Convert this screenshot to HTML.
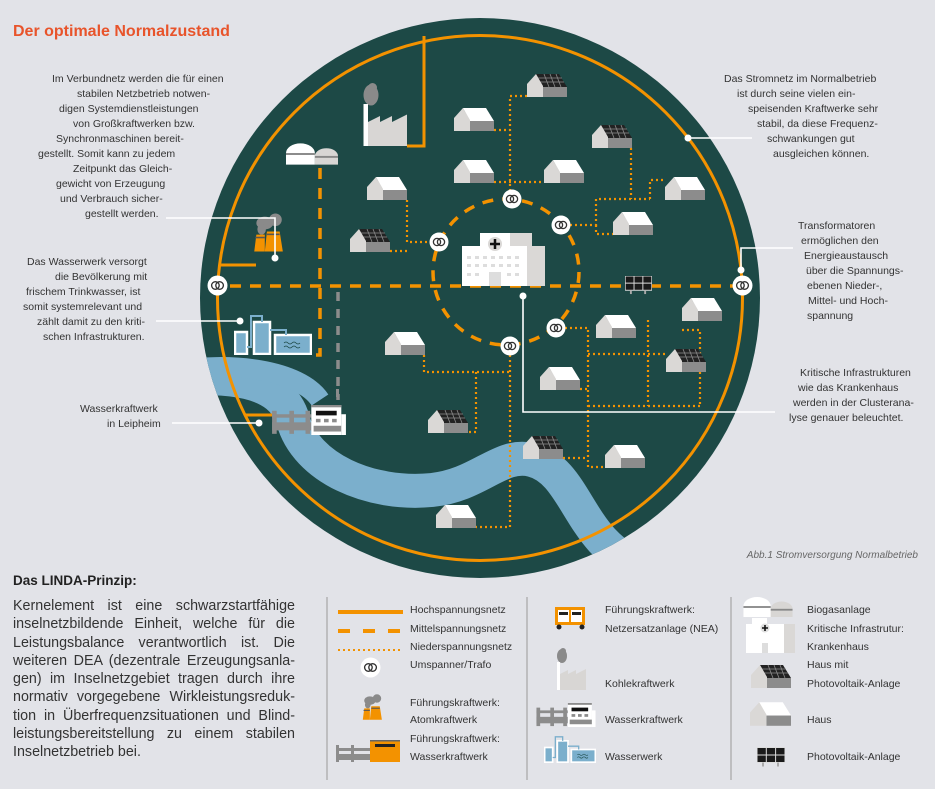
<!DOCTYPE html>
<html><head><meta charset="utf-8"><style>
html,body{margin:0;padding:0;background:#e2e3e8;}
#w{position:relative;width:935px;height:789px;overflow:hidden;font-family:"Liberation Sans",sans-serif;}
svg{position:absolute;left:0;top:0;}
.p{position:absolute;left:13px;width:282px;font-size:14.3px;color:#333;line-height:18.3px;}
.p div{text-align:justify;text-align-last:justify;white-space:nowrap;}
.p div.l{text-align-last:left;}
</style></head><body><div id="w">
<svg width="935" height="789" viewBox="0 0 935 789" font-family="Liberation Sans, sans-serif">
<defs>
<clipPath id="cc"><circle cx="480" cy="298" r="280"/></clipPath>
<symbol id="house" viewBox="0 0 40 23">
<polygon points="9,0 32,0 40,13 16,13" fill="#fff"/>
<rect x="16" y="13" width="24" height="10" fill="#8c8c8c"/>
<polygon points="0,23 0,10 9,0 16,12 16,23" fill="#dad8d6"/>
</symbol>
<symbol id="shouse" viewBox="0 0 40 23">
<polygon points="9,0 32,0 40,13 16,13" fill="#222"/>
<g stroke="#8c8c8c" stroke-width="0.8"><line x1="11" y1="4" x2="35" y2="4"/><line x1="13" y1="8" x2="37" y2="8"/><line x1="17" y1="0" x2="22" y2="13"/><line x1="23" y1="0" x2="28" y2="13"/><line x1="29" y1="0" x2="34" y2="13"/></g>
<rect x="16" y="13" width="24" height="10" fill="#8c8c8c"/>
<polygon points="0,23 0,10 9,0 16,12 16,23" fill="#dad8d6"/>
</symbol>
<symbol id="trafo" viewBox="0 0 20 20">
<circle cx="10" cy="10" r="9.5" fill="#fff"/>
<circle cx="8" cy="10" r="3.6" fill="none" stroke="#333" stroke-width="1.3"/>
<circle cx="12" cy="10" r="3.6" fill="none" stroke="#333" stroke-width="1.3"/>
</symbol>
<symbol id="pv" viewBox="0 0 28 20">
<rect x="0" y="0" width="28" height="15" fill="#1a1a1a" stroke="#ddd" stroke-width="1"/>
<line x1="9.3" y1="0" x2="9.3" y2="15" stroke="#ddd"/><line x1="18.6" y1="0" x2="18.6" y2="15" stroke="#ddd"/><line x1="0" y1="7.5" x2="28" y2="7.5" stroke="#ddd"/>
<rect x="5" y="15" width="2" height="4" fill="#aaa"/><rect x="20" y="15" width="2" height="4" fill="#aaa"/>
</symbol>
<symbol id="bio" viewBox="0 0 54 22">
<path d="M0,22 V10 A15,10 0 0 1 30,10 V22Z" fill="#fff"/>
<path d="M30,22 V13 A12,8 0 0 1 54,13 V22Z" fill="#d8d6d4"/>
<rect x="0" y="10" width="30" height="2" fill="#888"/><rect x="30" y="13" width="24" height="2" fill="#888"/>
</symbol>
<symbol id="hydro" viewBox="0 0 64 26">
<rect x="0" y="8" width="34" height="3" fill="#8c8c8c"/><rect x="0" y="15" width="34" height="7" fill="#8c8c8c"/>
<rect x="0" y="5" width="4" height="20" fill="#8c8c8c"/><rect x="15" y="5" width="4" height="20" fill="#8c8c8c"/><rect x="29" y="5" width="4" height="20" fill="#8c8c8c"/>
<rect x="34" y="0" width="26" height="26" fill="#fff"/><rect x="34" y="0" width="26" height="2" fill="#8c8c8c"/>
<rect x="38" y="5" width="18" height="4" fill="#111"/>
<rect x="38" y="12" width="4" height="3" fill="#8c8c8c"/><rect x="45" y="12" width="4" height="3" fill="#8c8c8c"/><rect x="52" y="12" width="4" height="3" fill="#8c8c8c"/>
<rect x="36" y="18" width="26" height="5" fill="#8c8c8c"/><rect x="60" y="8" width="4" height="18" fill="#fff"/>
</symbol>
<symbol id="ww" viewBox="0 0 78 40">
<rect x="1" y="17" width="12" height="22" fill="#7bafcc" stroke="#fff" stroke-width="2.5"/>
<rect x="20" y="7" width="16" height="32" fill="#7bafcc" stroke="#fff" stroke-width="2.5"/>
<rect x="41" y="20" width="36" height="19" fill="#7bafcc" stroke="#fff" stroke-width="2.5"/>
<path d="M13,32 H17 V1 H28 V7 M36,15 H52 V20" fill="none" stroke="#7bafcc" stroke-width="2"/>
<path d="M50,28 q2,-2 4,0 q2,2 4,0 q2,-2 4,0 q2,2 4,0 M50,32 q2,-2 4,0 q2,2 4,0 q2,-2 4,0 q2,2 4,0" fill="none" stroke="#1d4946" stroke-width="0.8"/>
</symbol>
<symbol id="coal" viewBox="0 0 30 42">
<ellipse cx="6" cy="8" rx="5" ry="7" fill="#8a8a8a"/><ellipse cx="7" cy="3" rx="3" ry="3" fill="#8a8a8a"/>
<rect x="1" y="14" width="3" height="28" fill="#fff"/>
<polygon points="4,42 4,26 12,22 12,26 20,22 20,26 30,21 30,42" fill="#d8d6d4"/>
</symbol>
<symbol id="nuke" viewBox="0 0 34 36">
<ellipse cx="14" cy="9" rx="8" ry="6" fill="#8a8a8a"/><ellipse cx="24" cy="6" rx="6" ry="6" fill="#8a8a8a"/><ellipse cx="11" cy="15" rx="4" ry="5" fill="#8a8a8a"/>
<polygon points="4,36 6,20 14,20 14,36" fill="#f39200"/><polygon points="14,36 16,17 28,17 31,36" fill="#f39200"/>
<rect x="5" y="22" width="9" height="1.5" fill="#555"/><rect x="16" y="19" width="12" height="1.5" fill="#555"/>
</symbol>
</defs>

<text x="13" y="36" font-size="16" font-weight="bold" fill="#e8542b">Der optimale Normalzustand</text>

<circle cx="480" cy="298" r="280" fill="#1d4946"/>
<g clip-path="url(#cc)">
<path d="M150,382 C230,372 282,380 293,420 C306,468 370,496 432,490 C480,485 500,452 532,460 C565,468 575,510 602,540 C625,565 660,580 700,585" fill="none" stroke="#7bafcc" stroke-width="34"/>
<path d="M170,372 C230,360 300,370 320,400" fill="none" stroke="#7bafcc" stroke-width="20"/>
</g>
<circle cx="480" cy="298" r="262.5" fill="none" stroke="#f39200" stroke-width="3"/>

<path d="M424,36 V146 H407" fill="none" stroke="#f39200" stroke-width="3"/>
<path d="M220,265 H256" fill="none" stroke="#f39200" stroke-width="3"/>
<path d="M245,415 H272" fill="none" stroke="#f39200" stroke-width="3"/>
<g fill="none" stroke="#f39200" stroke-width="3.5" stroke-dasharray="11,9">
<path d="M230,286 H735"/>
<path d="M320,168 V355 H310"/>
<circle cx="506" cy="272" r="73"/>
</g>
<path d="M338,292 V400" fill="none" stroke="#8c8c8c" stroke-width="3.5" stroke-dasharray="9,8"/>

<g fill="none" stroke="#f39200" stroke-width="2.2" stroke-dasharray="2,3">
<path d="M527,96 H510 V192"/><path d="M494,130 H510"/><path d="M494,182 H544"/>
<path d="M407,200 V242 H430"/><path d="M390,251 H407"/>
<path d="M570,225 H596 V199 H650"/><path d="M631,148 V199"/><path d="M596,225 V234 H613"/><path d="M650,199 V180 H665"/>
<path d="M565,328 H588 V467 H605"/><path d="M588,354 H665"/><path d="M588,406 H700"/><path d="M563,458 H588"/><path d="M648,320 V406"/><path d="M580,389 H588"/>
<path d="M510,355 V527 H476"/><path d="M424,355 V372 H510"/><path d="M476,372 V432 H468"/><path d="M682,330 H700 V406"/>
</g>

<use href="#shouse" x="527" y="74" width="40" height="23"/>
<use href="#house" x="454" y="108" width="40" height="23"/>
<use href="#shouse" x="592" y="125" width="40" height="23"/>
<use href="#house" x="454" y="160" width="40" height="23"/>
<use href="#house" x="544" y="160" width="40" height="23"/>
<use href="#house" x="367" y="177" width="40" height="23"/>
<use href="#house" x="665" y="177" width="40" height="23"/>
<use href="#shouse" x="350" y="229" width="40" height="23"/>
<use href="#house" x="613" y="212" width="40" height="23"/>
<use href="#house" x="385" y="332" width="40" height="23"/>
<use href="#house" x="596" y="315" width="40" height="23"/>
<use href="#house" x="682" y="298" width="40" height="23"/>
<use href="#shouse" x="666" y="349" width="40" height="23"/>
<use href="#house" x="540" y="367" width="40" height="23"/>
<use href="#shouse" x="428" y="410" width="40" height="23"/>
<use href="#shouse" x="523" y="436" width="40" height="23"/>
<use href="#house" x="605" y="445" width="40" height="23"/>
<use href="#house" x="436" y="505" width="40" height="23"/>

<use href="#coal" x="362" y="82" width="45" height="65"/>
<use href="#bio" x="286" y="143" width="52" height="22"/>
<use href="#nuke" x="250" y="197" width="36" height="71"/>
<use href="#ww" x="234" y="315" width="78" height="40"/>
<use href="#hydro" x="270" y="405" width="78" height="30"/>
<rect x="336" y="389" width="3" height="8" fill="#8c8c8c"/>
<use href="#pv" x="625" y="276" width="27" height="19"/>

<rect x="480" y="233" width="32" height="14" fill="#fff"/>
<rect x="510" y="233" width="22" height="14" fill="#dad8d6"/>
<rect x="462" y="246" width="65" height="40" fill="#fff"/>
<rect x="527" y="246" width="18" height="40" fill="#dad8d6"/>
<circle cx="495" cy="244" r="7" fill="#dad8d6"/>
<path d="M495,239 V249 M490,244 H500" stroke="#111" stroke-width="2.5"/>
<g fill="#ddd"><rect x="467" y="256" width="4" height="3"/><rect x="475" y="256" width="4" height="3"/><rect x="483" y="256" width="4" height="3"/><rect x="491" y="256" width="4" height="3"/><rect x="499" y="256" width="4" height="3"/><rect x="507" y="256" width="4" height="3"/><rect x="515" y="256" width="4" height="3"/>
<rect x="467" y="264" width="4" height="3"/><rect x="475" y="264" width="4" height="3"/><rect x="483" y="264" width="4" height="3"/><rect x="491" y="264" width="4" height="3"/><rect x="499" y="264" width="4" height="3"/><rect x="507" y="264" width="4" height="3"/><rect x="515" y="264" width="4" height="3"/>
<rect x="467" y="273" width="4" height="3"/><rect x="475" y="273" width="4" height="3"/><rect x="507" y="273" width="4" height="3"/><rect x="515" y="273" width="4" height="3"/><rect x="489" y="272" width="12" height="14"/></g>

<use href="#trafo" x="502" y="189" width="20" height="20"/>
<use href="#trafo" x="551" y="215" width="20" height="20"/>
<use href="#trafo" x="429" y="232" width="20" height="20"/>
<use href="#trafo" x="546" y="318" width="20" height="20"/>
<use href="#trafo" x="500" y="336" width="20" height="20"/>
<use href="#trafo" x="207" y="275" width="21" height="21"/>
<use href="#trafo" x="732" y="275" width="21" height="21"/>

<g fill="none" stroke="#fff" stroke-width="1.6">
<path d="M166,218 H275 V258"/><path d="M156,321 H240"/><path d="M172,423 H259"/>
<path d="M688,138 H752"/><path d="M741,270 V248 H793"/><path d="M523,296 V412 H775"/>
</g>
<g fill="#fff"><circle cx="275" cy="258" r="3.5"/><circle cx="240" cy="321" r="3.5"/><circle cx="259" cy="423" r="3.5"/><circle cx="688" cy="138" r="3.5"/><circle cx="741" cy="270" r="3.5"/><circle cx="523" cy="296" r="3.5"/></g>

<g font-size="10.5" fill="#333">
<text x="52" y="82">Im Verbundnetz werden die für einen</text>
<text x="77" y="97">stabilen Netzbetrieb notwen-</text>
<text x="59" y="112">digen Systemdienstleistungen</text>
<text x="73" y="127">von Großkraftwerken bzw.</text>
<text x="56" y="142">Synchronmaschinen bereit-</text>
<text x="38" y="157">gestellt. Somit kann zu jedem</text>
<text x="73" y="172">Zeitpunkt das Gleich-</text>
<text x="56" y="187">gewicht von Erzeugung</text>
<text x="60" y="202">und Verbrauch sicher-</text>
<text x="85" y="217">gestellt werden.</text>
<text x="27" y="265">Das Wasserwerk versorgt</text>
<text x="55" y="280">die Bevölkerung mit</text>
<text x="26" y="295">frischem Trinkwasser, ist</text>
<text x="23" y="310">somit systemrelevant und</text>
<text x="37" y="325">zählt damit zu den kriti-</text>
<text x="43" y="340">schen Infrastrukturen.</text>
<text x="80" y="412">Wasserkraftwerk</text>
<text x="107" y="427">in Leipheim</text>
<text x="724" y="82">Das Stromnetz im Normalbetrieb</text>
<text x="737" y="97">ist durch seine vielen ein-</text>
<text x="748" y="112">speisenden Kraftwerke sehr</text>
<text x="757" y="127">stabil, da diese Frequenz-</text>
<text x="767" y="142">schwankungen gut</text>
<text x="773" y="157">ausgleichen können.</text>
<text x="798" y="229">Transformatoren</text>
<text x="801" y="244">ermöglichen den</text>
<text x="804" y="259">Energieaustausch</text>
<text x="806" y="274">über die Spannungs-</text>
<text x="807" y="289">ebenen Nieder-,</text>
<text x="808" y="304">Mittel- und Hoch-</text>
<text x="807" y="319">spannung</text>
<text x="800" y="376">Kritische Infrastrukturen</text>
<text x="798" y="391">wie das Krankenhaus</text>
<text x="793" y="406">werden in der Clusterana-</text>
<text x="789" y="421">lyse genauer beleuchtet.</text>
</g>
<text x="918" y="558" font-size="10" font-style="italic" fill="#666" text-anchor="end">Abb.1 Stromversorgung Normalbetrieb</text>
<text x="13" y="585" font-size="13.5" font-weight="bold" fill="#222">Das LINDA-Prinzip:</text>

<g stroke="#999" stroke-width="1"><line x1="327" y1="597" x2="327" y2="780"/><line x1="527" y1="597" x2="527" y2="780"/><line x1="731" y1="597" x2="731" y2="780"/></g>
<line x1="338" y1="612" x2="403" y2="612" stroke="#f39200" stroke-width="4"/>
<line x1="338" y1="631" x2="403" y2="631" stroke="#f39200" stroke-width="4" stroke-dasharray="12,13"/>
<line x1="338" y1="650" x2="403" y2="650" stroke="#f39200" stroke-width="2" stroke-dasharray="2,3"/>
<use href="#trafo" x="360" y="657" width="21" height="21"/>
<use href="#nuke" x="360" y="689" width="24" height="36"/>
<g>
<rect x="336" y="748" width="34" height="3" fill="#8c8c8c"/><rect x="336" y="754" width="34" height="6" fill="#8c8c8c"/>
<rect x="336" y="745" width="3" height="17" fill="#8c8c8c"/><rect x="351" y="745" width="3" height="17" fill="#8c8c8c"/>
<rect x="370" y="740" width="30" height="22" fill="#f39200"/><rect x="375" y="744" width="20" height="3" fill="#222"/>
<rect x="370" y="740" width="30" height="1.5" fill="#666"/>
</g>
<g>
<rect x="555" y="607" width="30" height="18" fill="#f39200"/>
<rect x="558" y="610" width="11" height="12" fill="#fff"/><rect x="571" y="610" width="11" height="12" fill="#fff"/>
<rect x="559" y="612" width="9" height="3" fill="#222"/><rect x="572" y="612" width="9" height="3" fill="#222"/>
<circle cx="559" cy="627" r="2.5" fill="#222"/><circle cx="582" cy="627" r="2.5" fill="#222"/>
</g>
<use href="#coal" x="556" y="648" width="30" height="42"/>
<use href="#hydro" x="534" y="703" width="64" height="24"/>
<use href="#ww" x="544" y="736" width="52" height="27"/>
<use href="#bio" x="740" y="597" width="56" height="20"/>
<g>
<rect x="746" y="624" width="38" height="29" fill="#fff"/><rect x="784" y="624" width="11" height="29" fill="#dad8d6"/>
<rect x="752" y="618" width="15" height="8" fill="#fff"/>
<circle cx="765" cy="628" r="4.5" fill="#ddd"/><path d="M765,625 V631 M762,628 H768" stroke="#111" stroke-width="1.6"/>
<rect x="762" y="643" width="6" height="10" fill="#ddd"/>
</g>
<use href="#shouse" x="751" y="664" width="40" height="25"/>
<use href="#house" x="750" y="702" width="41" height="24"/>
<use href="#pv" x="757" y="747" width="28" height="21"/>
<g font-size="10.5" fill="#333">
<text x="410" y="613">Hochspannungsnetz</text>
<text x="410" y="632">Mittelspannungsnetz</text>
<text x="410" y="650">Niederspannungsnetz</text>
<text x="410" y="668">Umspanner/Trafo</text>
<text x="410" y="706">Führungskraftwerk:</text>
<text x="410" y="723">Atomkraftwerk</text>
<text x="410" y="742">Führungskraftwerk:</text>
<text x="410" y="760">Wasserkraftwerk</text>
<text x="605" y="613">Führungskraftwerk:</text>
<text x="605" y="632">Netzersatzanlage (NEA)</text>
<text x="605" y="687">Kohlekraftwerk</text>
<text x="605" y="723">Wasserkraftwerk</text>
<text x="605" y="760">Wasserwerk</text>
<text x="807" y="613">Biogasanlage</text>
<text x="807" y="632">Kritische Infrastrutur:</text>
<text x="807" y="650">Krankenhaus</text>
<text x="807" y="668">Haus mit</text>
<text x="807" y="687">Photovoltaik-Anlage</text>
<text x="807" y="723">Haus</text>
<text x="807" y="760">Photovoltaik-Anlage</text>
</g>
</svg>
<div class="p" style="top:597px">
<div>Kernelement ist eine schwarzstartfähige</div>
<div>inselnetzbildende Einheit, welche für die</div>
<div>Leistungsbalance verantwortlich ist. Die</div>
<div>weiteren DEA (dezentrale Erzeugungsanla-</div>
<div>gen) im Inselnetzgebiet tragen durch ihre</div>
<div>normativ vorgegebene Wirkleistungsreduk-</div>
<div>tion in Überfrequenzsituationen und Blind-</div>
<div>leistungsbereitstellung zu einem stabilen</div>
<div class="l">Inselnetzbetrieb bei.</div>
</div>
</div></body></html>
